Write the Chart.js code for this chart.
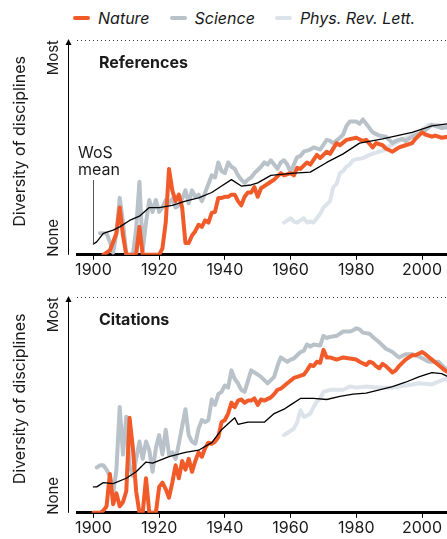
<!DOCTYPE html>
<html>
<head>
<meta charset="utf-8">
<script src="https://cdn.jsdelivr.net/npm/chart.js@4"></script>
<style>
  body { margin: 0; background: #fff; font-family: Inter, "Noto Sans", sans-serif; }
  #wrap { position: relative; width: 447px; height: 539px; overflow: hidden; }
  #legend { position: absolute; left: 73px; top: 8px; display: flex; align-items: center; font-style: italic; font-size: 16px; color: #1a1a1a; }
  #legend .item { display: flex; align-items: center; margin-right: 20px; }
  #legend .sw { width: 17px; height: 4px; border-radius: 2px; margin-right: 8px; }
  .box { position: absolute; left: 0; width: 447px; }
</style>
</head>
<body>
<div id="wrap">
  <div id="legend">
    <div class="item"><span class="sw" style="background:#f15a29"></span>Nature</div>
    <div class="item"><span class="sw" style="background:#b9c1c9"></span>Science</div>
    <div class="item"><span class="sw" style="background:#dde3ea"></span>Phys. Rev. Lett.</div>
  </div>
  <div class="box" style="top:0;height:285px"><canvas id="refChart"></canvas></div>
  <div class="box" style="top:290px;height:249px"><canvas id="citChart"></canvas></div>
</div>
<script>
// x ticks
var tickYears = [1900, 1920, 1940, 1960, 1980, 2000];

// References panel
var wosRefYears = [1900,1901,1903,1906,1908,1911,1914,1917,1920,1924,1928,1932,1936,1939,1942,1945,1948,1950,1954,1961,1966,1971,1976,1981,1988,1997,2003,2008];
var wosRefVals  = [0.05,0.06,0.10,0.115,0.13,0.16,0.18,0.22,0.22,0.23,0.25,0.265,0.29,0.32,0.35,0.32,0.325,0.335,0.37,0.38,0.385,0.43,0.47,0.52,0.54,0.57,0.60,0.61];

var natureRefYears = [1903,1905,1906,1907,1908,1909,1910,1913,1914,1915,1920,1921,1922,1923,1924,1925,1926,1927,1928,1929,1930,1931,1932,1933,1934,1935,1936,1937,1938,1939,1940,1941,1942,1943,1944,1945,1946,1947,1948,1949,1950,1951,1952,1954,1955,1957,1958,1960,1961,1962,1963,1965,1966,1968,1969,1971,1972,1974,1975,1977,1980,1982,1983,1985,1986,1988,1989,1991,1992,1993,1995,1997,1998,2000,2001,2003,2004,2006,2008];
var natureRefVals  = [0,0.02,0.06,0.10,0.22,0.09,0,0,0.13,0,0,0.03,0.15,0.40,0.30,0.25,0.28,0.22,0.055,0.055,0.09,0.11,0.14,0.13,0.16,0.15,0.195,0.20,0.265,0.265,0.27,0.27,0.28,0.28,0.25,0.23,0.27,0.29,0.29,0.315,0.27,0.31,0.32,0.34,0.35,0.38,0.37,0.38,0.37,0.405,0.40,0.43,0.42,0.465,0.45,0.48,0.47,0.52,0.51,0.535,0.545,0.53,0.535,0.50,0.52,0.51,0.495,0.48,0.49,0.50,0.51,0.52,0.54,0.57,0.56,0.55,0.555,0.545,0.55];

var scienceRefYears = [1902,1904,1905,1906,1907,1908,1909,1910,1912,1913,1914,1915,1916,1917,1918,1919,1920,1921,1922,1923,1924,1925,1926,1927,1928,1929,1930,1931,1932,1933,1934,1935,1936,1937,1938,1939,1940,1941,1942,1943,1944,1945,1946,1947,1948,1949,1950,1951,1952,1953,1954,1955,1956,1957,1958,1959,1960,1961,1962,1963,1964,1966,1967,1969,1971,1972,1973,1975,1976,1977,1978,1980,1981,1982,1983,1985,1987,1989,1991,1992,1994,1995,1997,2000,2001,2003,2006,2008];
var scienceRefVals  = [0.10,0.10,0.06,0.01,0.10,0.265,0.15,0,0,0.12,0.34,0.02,0.15,0.255,0.20,0.255,0.20,0.22,0.255,0.24,0.26,0.22,0.23,0.26,0.30,0.24,0.30,0.27,0.28,0.25,0.29,0.33,0.37,0.36,0.43,0.39,0.38,0.43,0.41,0.40,0.37,0.35,0.335,0.35,0.36,0.38,0.395,0.41,0.43,0.42,0.44,0.42,0.40,0.43,0.44,0.42,0.385,0.42,0.455,0.46,0.48,0.49,0.50,0.49,0.535,0.53,0.52,0.545,0.56,0.60,0.62,0.62,0.61,0.63,0.61,0.57,0.555,0.55,0.52,0.53,0.54,0.53,0.55,0.57,0.58,0.605,0.59,0.595];

var prlRefYears = [1958,1959,1960,1961,1962,1963,1964,1965,1966,1967,1968,1969,1970,1971,1972,1973,1974,1975,1976,1977,1978,1979,1980,1982,1984,1987,1989,1990,1993,1996,1999,2002,2005,2008];
var prlRefVals  = [0.15,0.16,0.17,0.155,0.15,0.16,0.17,0.15,0.155,0.15,0.17,0.19,0.22,0.235,0.25,0.315,0.33,0.38,0.39,0.41,0.42,0.44,0.445,0.45,0.465,0.48,0.49,0.505,0.53,0.55,0.57,0.605,0.605,0.59];

// Citations panel
var wosCitYears = [1900,1901,1903,1906,1910,1913,1916,1918,1923,1928,1932,1936,1939,1943,1944,1947,1950,1952,1955,1958,1960,1963,1967,1971,1975,1979,1983,1987,1991,1995,1999,2003,2006,2008];
var wosCitVals  = [0.12,0.12,0.14,0.135,0.16,0.19,0.235,0.23,0.26,0.28,0.29,0.325,0.385,0.44,0.41,0.42,0.42,0.42,0.46,0.48,0.50,0.53,0.53,0.525,0.54,0.55,0.555,0.57,0.585,0.605,0.63,0.65,0.645,0.63];

var natureCitYears = [1900,1902,1903,1904,1905,1906,1907,1908,1909,1910,1911,1912,1913,1914,1915,1916,1917,1919,1920,1921,1922,1923,1924,1925,1926,1927,1928,1929,1930,1931,1932,1933,1934,1935,1936,1937,1938,1939,1940,1941,1942,1943,1944,1945,1946,1947,1948,1949,1950,1951,1952,1954,1955,1956,1957,1959,1961,1962,1964,1965,1966,1967,1968,1969,1970,1971,1972,1974,1976,1978,1980,1981,1983,1984,1985,1986,1987,1988,1989,1991,1992,1993,1995,1996,1997,1998,2000,2001,2003,2005,2007,2008];
var natureCitVals  = [0,0,0.01,0.03,0.18,0.04,0.09,0.03,0.05,0.10,0.44,0.30,0.10,0,0,0.16,0,0,0.12,0.14,0.11,0.07,0.14,0.22,0.16,0.24,0.20,0.25,0.19,0.24,0.28,0.26,0.30,0.325,0.32,0.33,0.35,0.42,0.43,0.46,0.51,0.49,0.52,0.525,0.51,0.52,0.52,0.53,0.50,0.525,0.52,0.535,0.55,0.57,0.575,0.60,0.625,0.63,0.64,0.66,0.685,0.68,0.70,0.695,0.755,0.72,0.72,0.71,0.72,0.715,0.71,0.70,0.685,0.70,0.695,0.68,0.67,0.69,0.68,0.65,0.66,0.68,0.71,0.72,0.73,0.73,0.745,0.735,0.71,0.685,0.66,0.65];

var scienceCitYears = [1901,1902,1903,1904,1905,1906,1907,1908,1909,1910,1911,1912,1913,1914,1915,1916,1917,1918,1919,1920,1921,1922,1923,1924,1925,1926,1927,1928,1929,1930,1931,1932,1933,1934,1935,1936,1937,1938,1939,1940,1941,1942,1943,1944,1945,1946,1947,1948,1949,1950,1951,1952,1953,1955,1956,1957,1958,1959,1960,1961,1963,1964,1965,1966,1967,1969,1970,1971,1972,1974,1976,1978,1979,1980,1981,1982,1984,1985,1987,1989,1991,1993,1995,1997,1999,2002,2005,2007,2008];
var scienceCitVals  = [0.21,0.22,0.22,0.20,0.17,0.09,0.20,0.49,0.27,0.445,0.22,0.17,0.25,0.33,0.25,0.33,0.29,0.19,0.30,0.36,0.27,0.385,0.27,0.28,0.25,0.32,0.40,0.48,0.36,0.33,0.32,0.39,0.43,0.42,0.43,0.525,0.50,0.55,0.56,0.59,0.58,0.66,0.62,0.60,0.57,0.56,0.61,0.66,0.65,0.64,0.63,0.615,0.60,0.63,0.68,0.72,0.71,0.70,0.71,0.715,0.745,0.75,0.78,0.77,0.78,0.775,0.82,0.81,0.815,0.82,0.84,0.84,0.845,0.855,0.85,0.835,0.83,0.815,0.79,0.76,0.745,0.72,0.735,0.735,0.725,0.70,0.70,0.67,0.66];

var prlCitYears = [1958,1959,1960,1961,1962,1963,1964,1965,1966,1967,1968,1969,1970,1972,1974,1976,1978,1980,1983,1987,1991,1995,1999,2003,2007,2008];
var prlCitVals  = [0.36,0.37,0.38,0.39,0.42,0.475,0.445,0.45,0.46,0.49,0.515,0.53,0.56,0.57,0.57,0.57,0.585,0.58,0.585,0.58,0.58,0.59,0.60,0.595,0.62,0.615];

function pts(years, vals) {
  return years.map(function (y, i) { return { x: y, y: vals[i] }; });
}

var FONT = 'Inter, "Noto Sans", sans-serif';

// axis arrow, dotted top line, Most/None, panel title
var panelDeco = {
  id: 'panelDeco',
  afterDraw: function (chart, args, opts) {
    var ctx = chart.ctx, a = chart.chartArea;
    var ys = chart.scales.y, xs = chart.scales.x;
    var top = ys.getPixelForValue(1), bot = ys.getPixelForValue(0);
    ctx.save();
    ctx.strokeStyle = '#333';
    ctx.lineWidth = 1;
    ctx.setLineDash([1, 3]);
    ctx.beginPath();
    ctx.moveTo(a.left, top + 0.5);
    ctx.lineTo(a.right, top + 0.5);
    ctx.stroke();
    ctx.setLineDash([]);
    // y arrow
    var ax = a.left - 8.5;
    ctx.strokeStyle = '#000';
    ctx.beginPath();
    ctx.moveTo(ax, bot);
    ctx.lineTo(ax, top + 3);
    ctx.stroke();
    ctx.fillStyle = '#000';
    ctx.beginPath();
    ctx.moveTo(ax, top - 1);
    ctx.lineTo(ax - 3, top + 5);
    ctx.lineTo(ax + 3, top + 5);
    ctx.closePath();
    ctx.fill();

    ctx.fillStyle = '#1a1a1a';
    ctx.font = '15px ' + FONT;
    ctx.textBaseline = 'middle';
    ctx.save();
    ctx.translate(53, top);
    ctx.rotate(-Math.PI / 2);
    ctx.textAlign = 'right';
    ctx.fillText('Most', 0, 0);
    ctx.restore();
    ctx.save();
    ctx.translate(53, bot + 2);
    ctx.rotate(-Math.PI / 2);
    ctx.textAlign = 'left';
    ctx.fillText('None', 0, 0);
    ctx.restore();
    ctx.save();
    ctx.font = '16px ' + FONT;
    ctx.translate(20, (top + bot) / 2 - 6);
    ctx.rotate(-Math.PI / 2);
    ctx.textAlign = 'center';
    ctx.fillText('Diversity of disciplines', 0, 0);
    ctx.restore();

    ctx.font = 'bold 16px ' + FONT;
    ctx.textAlign = 'left';
    ctx.fillText(opts.title, a.left + 22, top + 23);

    if (opts.wos) {
      var lx = Math.round(xs.getPixelForValue(opts.wos.x)) + 0.5;
      ctx.strokeStyle = '#555';
      ctx.lineWidth = 1;
      ctx.beginPath();
      ctx.moveTo(lx, ys.getPixelForValue(opts.wos.y) - 1);
      ctx.lineTo(lx, top + 140);
      ctx.stroke();
      ctx.font = '16px ' + FONT;
      ctx.fillStyle = '#1a1a1a';
      ctx.fillText('WoS', a.left + 1, top + 113);
      ctx.fillText('mean', a.left + 1, top + 130);
    }
    ctx.restore();
  }
};

function makeChart(id, title, sets, padTop, padBottom, wos) {
  return new Chart(document.getElementById(id), {
    type: 'line',
    data: {
      datasets: [
        { label: 'WoS mean', data: sets[0], borderColor: '#000', borderWidth: 1.3, order: 0 },
        { label: 'Nature', data: sets[1], borderColor: '#f15a29', borderWidth: 4, order: 1 },
        { label: 'Science', data: sets[2], borderColor: '#b9c1c9', borderWidth: 4, order: 2 },
        { label: 'Phys. Rev. Lett.', data: sets[3], borderColor: '#dde3ea', borderWidth: 4, order: 3 }
      ]
    },
    options: {
      responsive: true,
      maintainAspectRatio: false,
      animation: false,
      layout: { padding: { left: 77, right: 0, top: padTop, bottom: padBottom } },
      elements: { point: { radius: 0 }, line: { tension: 0, borderJoinStyle: 'round', borderCapStyle: 'round' } },
      plugins: {
        legend: { display: false },
        tooltip: { enabled: false },
        panelDeco: { title: title, wos: wos }
      },
      scales: {
        x: {
          type: 'linear',
          min: 1895,
          max: 2007.6,
          afterBuildTicks: function (s) { s.ticks = tickYears.map(function (v) { return { value: v }; }); },
          grid: { drawOnChartArea: false, drawTicks: true, tickLength: 5, color: '#000', tickWidth: 1 },
          border: { display: true, color: '#000', width: 3 },
          ticks: { font: { family: FONT, size: 16 }, color: '#1a1a1a', padding: 1, maxRotation: 0, callback: function (v) { return String(v); } }
        },
        y: { display: false, min: 0, max: 1 }
      }
    },
    plugins: [panelDeco]
  });
}

makeChart('refChart', 'References', [
  pts(wosRefYears, wosRefVals), pts(natureRefYears, natureRefVals),
  pts(scienceRefYears, scienceRefVals), pts(prlRefYears, prlRefVals)
], 40, 4, { x: wosRefYears[0], y: wosRefVals[0] });

makeChart('citChart', 'Citations', [
  pts(wosCitYears, wosCitVals), pts(natureCitYears, natureCitVals),
  pts(scienceCitYears, scienceCitVals), pts(prlCitYears, prlCitVals)
], 7, 0, null);
</script>
</body>
</html>
